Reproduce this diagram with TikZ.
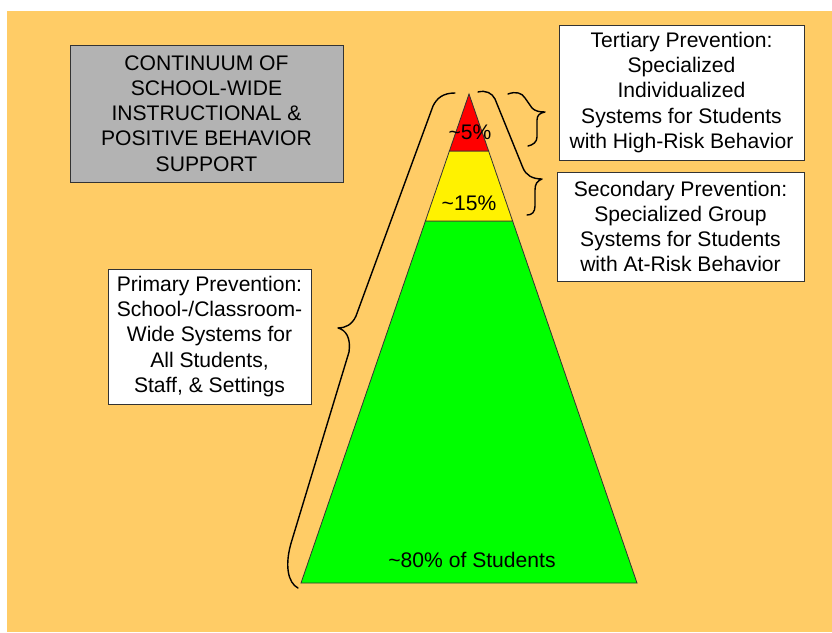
\documentclass[tikz,border=0pt]{standalone}
\usepackage{fontspec}
\setmainfont{Liberation Sans}
\definecolor{bgorange}{HTML}{FFCC66}
\definecolor{boxgray}{HTML}{B3B3B3}
\definecolor{edge}{HTML}{333333}
\begin{document}
\begin{tikzpicture}[x=1pt,y=-1pt,
  txt/.style={font=\fontsize{21.1}{25.2}\selectfont, align=center, inner sep=0pt},
  infobox/.style={txt, draw=edge, line width=1pt, fill=white},
  brace/.style={draw=black, line width=1.4pt, line cap=round, line join=round},
  tier/.style={draw=edge, line width=0.8pt}]
\useasboundingbox (0,0) rectangle (832,632);
\fill[white] (0,0) rectangle (832,632);
\fill[bgorange] (7,11) rectangle (832,632);

% pyramid
\coordinate (apex) at (469,94);
\coordinate (rl) at (449.4,151);
\coordinate (rr) at (488.6,151);
\coordinate (yl) at (425.4,221);
\coordinate (yr) at (512.6,221);
\coordinate (gl) at (301,583);
\coordinate (gr) at (637,583);
\filldraw[tier, fill=green] (yl) -- (yr) -- (gr) -- (gl) -- cycle;
\filldraw[tier, fill=yellow] (rl) -- (rr) -- (yr) -- (yl) -- cycle;
\filldraw[tier, fill=red] (apex) -- (rr) -- (rl) -- cycle;

\node[txt] (p5) at (470,132) {\textasciitilde5\%};
\node[txt] (p15) at (469,203) {\textasciitilde15\%};
\node[txt] (p80) at (472,560) {\textasciitilde80\% of Students};

% boxes
\node[txt, draw=edge, line width=1pt, fill=boxgray, minimum width=273pt, minimum height=137pt] (title) at (206.5,113.5)
  {CONTINUUM OF\\SCHOOL-WIDE\\INSTRUCTIONAL \&\\POSITIVE BEHAVIOR\\SUPPORT};
\node[infobox, minimum width=245pt, minimum height=135pt] (tert) at (681.5,92.5)
  {Tertiary Prevention:\\Specialized\\Individualized\\Systems for Students\\with High-Risk Behavior};
\node[infobox, minimum width=247pt, minimum height=109pt] (sec) at (680.5,226.5)
  {Secondary Prevention:\\Specialized Group\\Systems for Students\\with At-Risk Behavior};
\node[infobox, minimum width=203pt, minimum height=135pt] (prim) at (209.5,336.5)
  {Primary Prevention:\\School-/Classroom-\\Wide Systems for\\All Students,\\Staff, \& Settings};

% braces
\draw[brace] (455,93) .. controls (443,93) and (437,98) .. (433,106)
  -- (356,316) .. controls (352,325) and (345,328) .. (338,328)
  .. controls (346,330) and (351,338) .. (349,352)
  -- (292,540) .. controls (284,565) and (288,583) .. (298,588);
\draw[brace] (478,92) .. controls (486,90) and (492,93) .. (495,99)
  -- (523,168) .. controls (526,175) and (532,179) .. (542,179)
  .. controls (537,181) and (535,184) .. (535,190)
  -- (535,206) .. controls (535,212) and (532,215) .. (527,215);
\draw[brace] (508,94) .. controls (516,91) and (522,93) .. (525,98)
  -- (532,108) .. controls (535,111) and (539,112) .. (545,112)
  .. controls (540,113) and (537,115) .. (537,120)
  -- (537,137) .. controls (537,142) and (533,145) .. (528,146);
\end{tikzpicture}
\end{document}
